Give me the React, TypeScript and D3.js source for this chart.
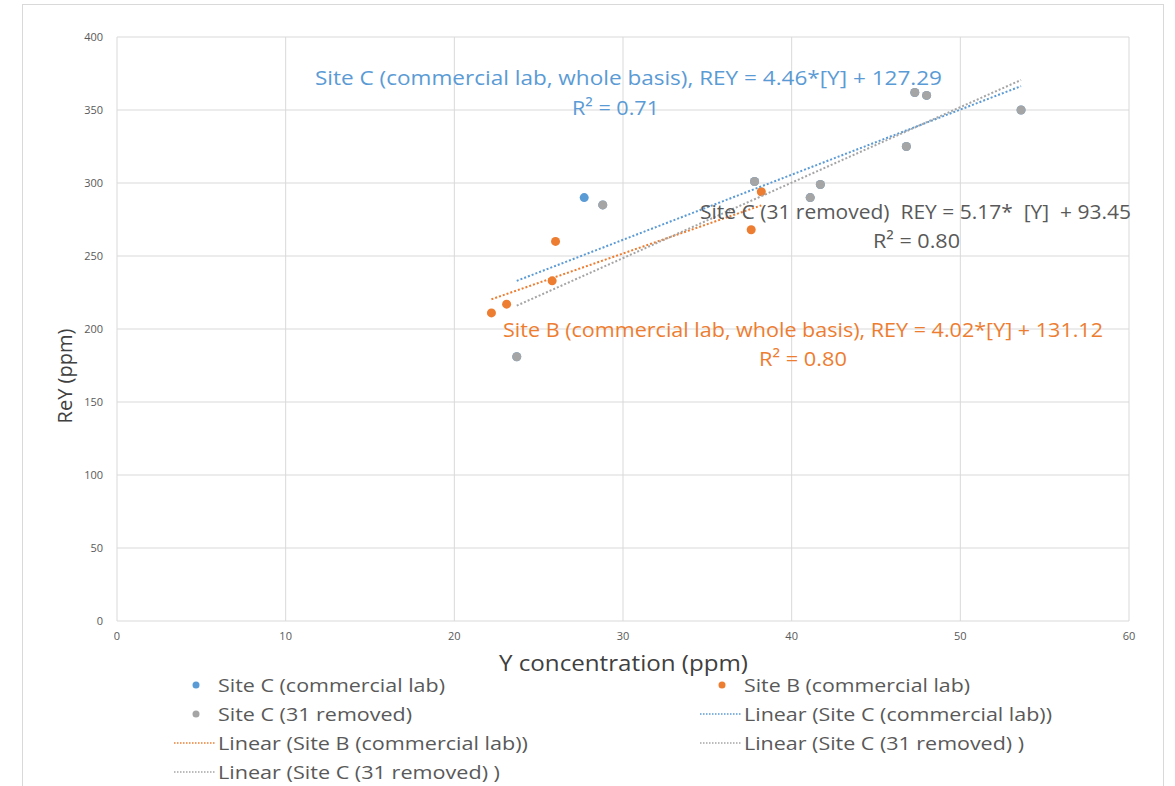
import React from 'react';
import * as d3 from 'd3';

// Site C (commercial lab) – whole basis, gray points sit on top of these
const siteC = [
  { y: 27.7, rey: 290 },
  { y: 23.7, rey: 181 },
  { y: 28.8, rey: 285 },
  { y: 37.8, rey: 301 },
  { y: 41.1, rey: 290 },
  { y: 41.7, rey: 299 },
  { y: 46.8, rey: 325 },
  { y: 47.3, rey: 362 },
  { y: 48.0, rey: 360 },
  { y: 53.6, rey: 350 },
];
const siteB = [
  { y: 22.2, rey: 211 },
  { y: 23.1, rey: 217 },
  { y: 25.8, rey: 233 },
  { y: 26.0, rey: 260 },
  { y: 37.6, rey: 268 },
  { y: 38.2, rey: 294 },
];
const siteC31 = [
  { y: 23.7, rey: 181 },
  { y: 28.8, rey: 285 },
  { y: 37.8, rey: 301 },
  { y: 41.1, rey: 290 },
  { y: 41.7, rey: 299 },
  { y: 46.8, rey: 325 },
  { y: 47.3, rey: 362 },
  { y: 48.0, rey: 360 },
  { y: 53.6, rey: 350 },
];

// trend line coefficients [slope, intercept]
const fitC = [4.46, 127.29];
const fitB = [4.02, 131.12];
const fitC31 = [5.17, 93.45];

const xTicks = [0, 10, 20, 30, 40, 50, 60];
const yTicks = [0, 50, 100, 150, 200, 250, 300, 350, 400];

const BLUE = '#5B9BD5';
const ORANGE = '#ED7D31';
const GRAY = '#A5A5A5';
const FONT = '"Open Sans", "Noto Sans", sans-serif';

export default function App() {
  const x = d3.scaleLinear().domain([0, 60]).range([117, 1129]);
  const y = d3.scaleLinear().domain([0, 400]).range([621, 37]);

  const trend = (data: { y: number }[], fit: number[]) => {
    const [x0, x1] = d3.extent(data, (d) => d.y) as [number, number];
    const pts: [number, number][] = [x0, x1].map((v) => [x(v), y(fit[0] * v + fit[1])]);
    return d3.line()(pts) as string;
  };

  const dots = (data: { y: number; rey: number }[], color: string) =>
    data.map((d, i) => <circle key={i} cx={x(d.y)} cy={y(d.rey)} r={4.5} fill={color} />);

  const legend = [
    { kind: 'dot', color: BLUE, label: 'Site C (commercial lab)', lx: 196, ty: 685, w: 227 },
    { kind: 'dot', color: ORANGE, label: 'Site B (commercial lab)', lx: 722, ty: 685, w: 226 },
    { kind: 'dot', color: GRAY, label: 'Site C (31 removed)', lx: 196, ty: 714, w: 194 },
    { kind: 'line', color: BLUE, label: 'Linear (Site C (commercial lab))', lx: 722, ty: 714, w: 308 },
    { kind: 'line', color: ORANGE, label: 'Linear (Site B (commercial lab))', lx: 196, ty: 743, w: 310 },
    { kind: 'line', color: GRAY, label: 'Linear (Site C (31 removed) )', lx: 722, ty: 743, w: 280 },
    { kind: 'line', color: GRAY, label: 'Linear (Site C (31 removed) )', lx: 196, ty: 772, w: 282 },
  ];

  return (
    <svg
      width={1175}
      height={786}
      style={{ position: 'absolute', left: 0, top: 0, background: '#fff', fontFamily: FONT }}
    >
      <rect x={22.5} y={4.5} width={1141} height={800} fill="#fff" stroke="#d9d9d9" />

      {/* grid */}
      {yTicks.map((t) => (
        <line key={'gy' + t} x1={x(0)} x2={x(60)} y1={y(t)} y2={y(t)} stroke="#d9d9d9" />
      ))}
      {xTicks.map((t) => (
        <line key={'gx' + t} x1={x(t)} x2={x(t)} y1={y(0)} y2={y(400)} stroke="#d9d9d9" />
      ))}

      {/* tick labels */}
      {yTicks.map((t) => (
        <text key={'ly' + t} x={103} y={y(t) + 4} textAnchor="end" fontSize={11} fill="#595959">
          {t}
        </text>
      ))}
      {xTicks.map((t) => (
        <text key={'lx' + t} x={x(t)} y={640} textAnchor="middle" fontSize={11} fill="#595959">
          {t}
        </text>
      ))}

      {/* axis titles */}
      <text x={499} y={671} fontSize={21} fill="#404040" textLength={249} lengthAdjust="spacingAndGlyphs">
        Y concentration (ppm)
      </text>
      <text
        transform="translate(72,376) rotate(-90)"
        textAnchor="middle"
        fontSize={20}
        fill="#404040"
      >
        ReY (ppm)
      </text>

      {/* points */}
      {dots(siteC, BLUE)}
      {dots(siteB, ORANGE)}
      {dots(siteC31, GRAY)}

      {/* trend lines */}
      <path d={trend(siteC, fitC)} stroke={BLUE} strokeWidth={2} strokeDasharray="2 2" fill="none" />
      <path d={trend(siteB, fitB)} stroke={ORANGE} strokeWidth={2} strokeDasharray="2 2" fill="none" />
      <path d={trend(siteC31, fitC31)} stroke={GRAY} strokeWidth={2} strokeDasharray="2 2" fill="none" />

      {/* equation labels */}
      <g fontSize={20}>
        <text x={315} y={85} fill={BLUE} textLength={627} lengthAdjust="spacingAndGlyphs">
          Site C (commercial lab, whole basis), REY = 4.46*[Y] + 127.29
        </text>
        <text x={572} y={115} fill={BLUE} textLength={87} lengthAdjust="spacingAndGlyphs">
          R² = 0.71
        </text>
        <text
          x={700}
          y={219}
          fill="#595959"
          xmlSpace="preserve"
          style={{ whiteSpace: 'pre' }}
          textLength={431}
          lengthAdjust="spacingAndGlyphs"
        >
          {'Site C (31 removed)  REY = 5.17*  [Y]  + 93.45'}
        </text>
        <text x={873} y={248} fill="#595959" textLength={87} lengthAdjust="spacingAndGlyphs">
          R² = 0.80
        </text>
        <text x={503} y={337} fill={ORANGE} textLength={600} lengthAdjust="spacingAndGlyphs">
          Site B (commercial lab, whole basis), REY = 4.02*[Y] + 131.12
        </text>
        <text x={759} y={366} fill={ORANGE} textLength={88} lengthAdjust="spacingAndGlyphs">
          R² = 0.80
        </text>
      </g>

      {/* legend */}
      {legend.map((l, i) => (
        <g key={'lg' + i}>
          {l.kind === 'dot' ? (
            <circle cx={l.lx} cy={l.ty} r={3.5} fill={l.color} />
          ) : (
            <line
              x1={l.lx - 22}
              x2={l.lx + 20}
              y1={l.ty}
              y2={l.ty}
              stroke={l.color}
              strokeWidth={1.5}
              strokeDasharray="1.5 1.5"
            />
          )}
          <text
            x={l.lx + 22}
            y={l.ty + 7}
            fontSize={19}
            fill="#595959"
            textLength={l.w}
            lengthAdjust="spacingAndGlyphs"
          >
            {l.label}
          </text>
        </g>
      ))}
    </svg>
  );
}
